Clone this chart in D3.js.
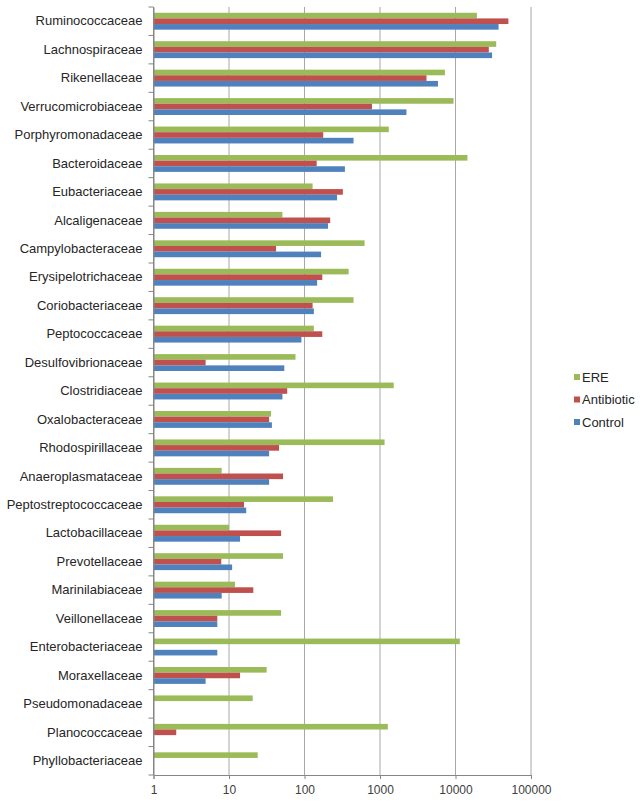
<!DOCTYPE html>
<html>
<head>
<meta charset="utf-8">
<script src="https://cdn.jsdelivr.net/npm/d3@7"></script>
<style>
  html, body { margin: 0; padding: 0; background: #fff; }
  svg { display: block; font-family: "Liberation Sans", Arial, sans-serif; }
</style>
</head>
<body>
<svg id="chart" width="643" height="802"></svg>
<script>
const categories = [
  "Ruminococcaceae", "Lachnospiraceae", "Rikenellaceae", "Verrucomicrobiaceae",
  "Porphyromonadaceae", "Bacteroidaceae", "Eubacteriaceae", "Alcaligenaceae",
  "Campylobacteraceae", "Erysipelotrichaceae", "Coriobacteriaceae", "Peptococcaceae",
  "Desulfovibrionaceae", "Clostridiaceae", "Oxalobacteraceae", "Rhodospirillaceae",
  "Anaeroplasmataceae", "Peptostreptococcaceae", "Lactobacillaceae", "Prevotellaceae",
  "Marinilabiaceae", "Veillonellaceae", "Enterobacteriaceae", "Moraxellaceae",
  "Pseudomonadaceae", "Planococcaceae", "Phyllobacteriaceae"
];
const ere = [19200, 34600, 7240, 9420, 1307, 14400, 128, 51, 625, 384, 446, 133,
             76, 1520, 36, 1150, 8, 239, 10, 52, 12, 49, 11400, 31.5, 20.6, 1270, 24];
const antibiotic = [50200, 27600, 4130, 783, 177, 145, 322, 219, 42, 172, 128, 172,
                    4.9, 59, 34, 46, 52, 15.8, 49, 7.9, 21, 7, null, 14, null, 2, null];
const control = [37200, 30500, 5860, 2240, 446, 343, 270, 205, 166, 147, 133, 91,
                 54, 51, 37, 34, 34, 16.9, 14, 11, 8, 7, 7, 4.9, null, null, null];
const seriesNames = ["ERE", "Antibiotic", "Control"];
const seriesColors = ["#9BBB59", "#C0504D", "#4F81BD"];
const tickValues = [1, 10, 100, 1000, 10000, 100000];

const svg = d3.select("#chart");
const plotLeft = 153.5, plotRight = 531, plotTop = 7, plotBottom = 775;

const x = d3.scaleLog().domain([1, 100000]).range([plotLeft, plotRight]);
const y = d3.scaleBand().domain(categories).range([plotTop, plotBottom]).padding(0);
const sub = d3.scaleBand().domain(seriesNames)
  .range([y.bandwidth() * 0.203, y.bandwidth() * 0.797]).padding(0);

// gridlines
svg.append("g").selectAll("line")
  .data(tickValues.slice(1))
  .join("line")
  .attr("x1", d => x(d)).attr("x2", d => x(d))
  .attr("y1", plotTop).attr("y2", plotBottom)
  .attr("stroke", "#a8a8a8").attr("stroke-width", 1);

// bars
const seriesData = [ere, antibiotic, control];
const rows = [];
categories.forEach((c, i) => {
  seriesNames.forEach((s, j) => {
    const v = seriesData[j][i];
    if (v != null && v > 0) rows.push({ c, s, v, color: seriesColors[j] });
  });
});
svg.append("g").selectAll("rect")
  .data(rows)
  .join("rect")
  .attr("x", x(1))
  .attr("y", d => y(d.c) + sub(d.s))
  .attr("width", d => Math.max(0, x(d.v) - x(1)))
  .attr("height", sub.bandwidth())
  .attr("fill", d => d.color);

// x axis
const xAxis = d3.axisBottom(x).tickValues(tickValues).tickFormat(d3.format("d"))
  .tickSize(4).tickPadding(6);
const gx = svg.append("g").attr("transform", `translate(0,${plotBottom})`).call(xAxis);
gx.select(".domain").attr("stroke", "#868686");
gx.selectAll(".tick line").attr("stroke", "#868686");
gx.selectAll(".tick text").attr("font-size", 12).attr("fill", "#404040")
  .attr("font-family", "Liberation Sans, Arial, sans-serif");

// y axis
const yAxis = d3.axisLeft(y).tickSize(0).tickPadding(11);
const gy = svg.append("g").attr("transform", `translate(${plotLeft},0)`).call(yAxis);
gy.select(".domain").attr("stroke", "#868686");
gy.selectAll(".tick text").attr("font-size", 13).attr("fill", "#262626")
  .attr("font-family", "Liberation Sans, Arial, sans-serif");
// category boundary ticks
const bounds = categories.map(c => y(c)).concat([plotBottom]);
svg.append("g").selectAll("line")
  .data(bounds)
  .join("line")
  .attr("x1", plotLeft - 5).attr("x2", plotLeft)
  .attr("y1", d => d).attr("y2", d => d)
  .attr("stroke", "#868686");
svg.append("line").attr("x1", plotLeft).attr("x2", plotLeft)
  .attr("y1", plotTop).attr("y2", plotBottom)
  .attr("stroke", "#868686");

// legend
const legend = svg.append("g").attr("transform", "translate(574,377)");
seriesNames.forEach((s, i) => {
  const g = legend.append("g").attr("transform", `translate(0,${i * 22.5})`);
  g.append("rect").attr("x", 0).attr("y", -3).attr("width", 6).attr("height", 6)
    .attr("fill", seriesColors[i]);
  g.append("text").attr("x", 8).attr("y", 0).attr("dy", "0.35em")
    .attr("font-size", 13).attr("fill", "#262626").text(s);
});
</script>
</body>
</html>
